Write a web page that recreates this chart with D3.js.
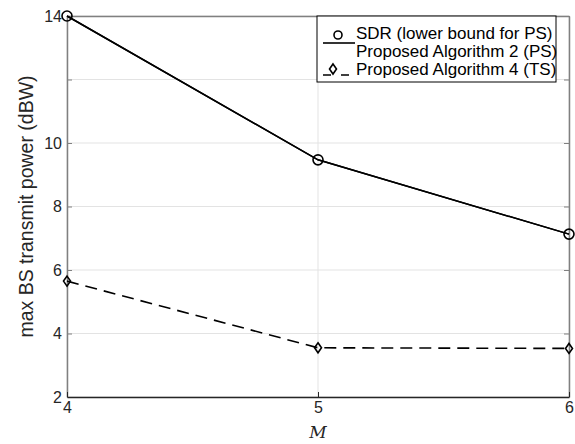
<!DOCTYPE html>
<html>
<head>
<meta charset="utf-8">
<script src="https://cdn.jsdelivr.net/npm/d3@7"></script>
<style>
  body { margin: 0; background: #fff; }
  text { font-family: "Liberation Sans", Arial, sans-serif; fill: #262626; }
</style>
</head>
<body>
<script>
const width = 575,
  height = 444;

const M = [4, 5, 6];
const sdr = [14, 9.47, 7.13];
const alg2 = [14, 9.47, 7.13];
const alg4 = [5.65, 3.55, 3.53];
const yTicks = [2, 4, 6, 8, 10, 12, 14];
const yLabels = ['2', '4', '6', '8', '10', '', '14'];
const legendLabels = ['SDR (lower bound for PS)', 'Proposed Algorithm 2 (PS)', 'Proposed Algorithm 4 (TS)'];

const margin = { left: 67, right: 6, top: 16, bottom: 47 };

const x = d3.scaleLinear().domain([4, 6]).range([margin.left, width - margin.right]);
const y = d3.scaleLinear().domain([2, 14]).range([height - margin.bottom, margin.top]);

const svg = d3
  .select('body')
  .append('svg')
  .attr('width', width)
  .attr('height', height);

// grid
svg.append('g')
  .selectAll('line')
  .data(yTicks)
  .enter()
  .append('line')
  .attr('x1', x(4)).attr('x2', x(6))
  .attr('y1', d => y(d)).attr('y2', d => y(d))
  .style('stroke', '#e3e3e3')
  .style('stroke-width', 1);

svg.append('g')
  .selectAll('line')
  .data(M)
  .enter()
  .append('line')
  .attr('x1', d => x(d)).attr('x2', d => x(d))
  .attr('y1', y(2)).attr('y2', y(14))
  .style('stroke', '#e3e3e3')
  .style('stroke-width', 1);

// axes
const yAxisL = svg.append('g')
  .attr('transform', `translate(${x(4)},0)`)
  .call(d3.axisLeft(y).tickValues(yTicks).tickFormat((d, i) => yLabels[i]).tickSizeInner(-5).tickSizeOuter(0).tickPadding(5));
const yAxisR = svg.append('g')
  .attr('transform', `translate(${x(6)},0)`)
  .call(d3.axisRight(y).tickValues(yTicks).tickFormat('').tickSizeInner(-5).tickSizeOuter(0));
const xAxisB = svg.append('g')
  .attr('transform', `translate(0,${y(2)})`)
  .call(d3.axisBottom(x).tickValues(M).tickFormat(d3.format('d')).tickSizeInner(-5).tickSizeOuter(0).tickPadding(5));
const xAxisT = svg.append('g')
  .attr('transform', `translate(0,${y(14)})`)
  .call(d3.axisTop(x).tickValues(M).tickFormat('').tickSizeInner(-5).tickSizeOuter(0));

[yAxisL, yAxisR, xAxisT].forEach(g => {
  g.select('.domain').style('stroke', '#808080').style('stroke-width', 1.5);
  g.selectAll('.tick line').style('stroke', '#808080');
});
xAxisB.select('.domain').style('stroke', '#262626').style('stroke-width', 1.5);
xAxisB.selectAll('.tick line').style('stroke', '#262626');
svg.selectAll('.tick text').style('font-size', '16px').style('fill', '#262626')
  .style('font-family', '"Liberation Sans", Arial, sans-serif');

// axis labels
svg.append('text')
  .attr('transform', `translate(33,${(y(2) + y(14)) / 2}) rotate(-90)`)
  .attr('text-anchor', 'middle')
  .style('font-size', '19.5px')
  .text('max BS transmit power (dBW)');

svg.append('text')
  .attr('x', x(5))
  .attr('y', 438)
  .attr('text-anchor', 'middle')
  .style('font-family', '"DejaVu Serif", "Liberation Serif", serif')
  .style('font-style', 'italic')
  .style('font-size', '17px')
  .text('M');

// lines
const line = d3.line().x((d, i) => x(M[i])).y(d => y(d));

svg.append('path')
  .attr('d', line(alg2))
  .style('fill', 'none')
  .style('stroke', '#000')
  .style('stroke-width', 1.5);

svg.append('path')
  .attr('d', line(sdr))
  .style('fill', 'none')
  .style('stroke', '#000')
  .style('stroke-width', 1.5);

svg.append('path')
  .attr('d', line(alg4))
  .style('fill', 'none')
  .style('stroke', '#000')
  .style('stroke-width', 1.6)
  .style('stroke-dasharray', '12,7');

const diamond = s => `M0,${-s}L${s * 0.7},0L0,${s}L${-s * 0.7},0Z`;

svg.append('g')
  .selectAll('circle')
  .data(sdr)
  .enter()
  .append('circle')
  .attr('cx', (d, i) => x(M[i]))
  .attr('cy', d => y(d))
  .attr('r', 5)
  .style('fill', 'none')
  .style('stroke', '#000')
  .style('stroke-width', 1.6);

svg.append('g')
  .selectAll('path')
  .data(alg4)
  .enter()
  .append('path')
  .attr('transform', (d, i) => `translate(${x(M[i])},${y(d)})`)
  .attr('d', diamond(5))
  .style('fill', 'none')
  .style('stroke', '#000')
  .style('stroke-width', 1.6);

// legend
const lg = svg.append('g').attr('transform', 'translate(317,16)');
lg.append('rect')
  .attr('x', 0).attr('y', 0)
  .attr('width', 239).attr('height', 66)
  .style('fill', '#fff')
  .style('stroke', '#000')
  .style('stroke-width', 1);

lg.selectAll('text')
  .data(legendLabels)
  .enter()
  .append('text')
  .attr('x', 39)
  .attr('y', (d, i) => 23 + i * 18)
  .style('font-size', '17px')
  .style('fill', '#000')
  .text(d => d);

lg.append('line')
  .attr('x1', 6).attr('x2', 38).attr('y1', 27).attr('y2', 27)
  .style('stroke', '#000').style('stroke-width', 1.6);
lg.append('circle')
  .attr('cx', 21).attr('cy', 19).attr('r', 4)
  .style('fill', 'none').style('stroke', '#000').style('stroke-width', 1.6);

lg.append('line')
  .attr('x1', 6).attr('x2', 38).attr('y1', 59).attr('y2', 59)
  .style('stroke', '#000').style('stroke-width', 1.6)
  .style('stroke-dasharray', '8,10');
lg.append('path')
  .attr('transform', 'translate(16,53)')
  .attr('d', diamond(5))
  .style('fill', 'none').style('stroke', '#000').style('stroke-width', 1.6);
</script>
</body>
</html>
